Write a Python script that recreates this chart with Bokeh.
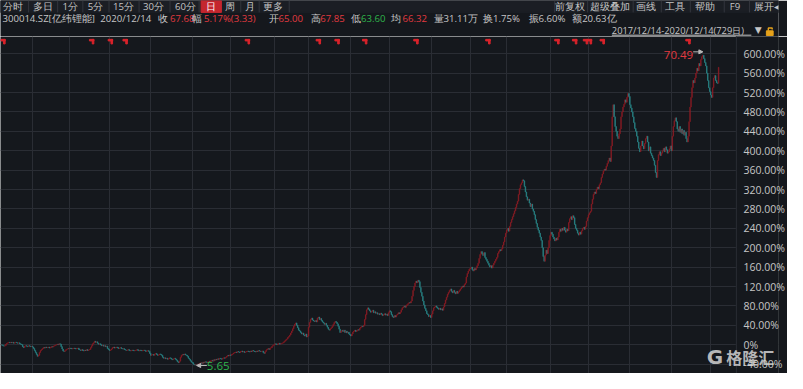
from bokeh.plotting import figure
from bokeh.layouts import column
from bokeh.models import (Range1d, FixedTicker, CustomJSTickFormatter, Label, Span,
                          Arrow, NormalHead, ColumnDataSource)
from bokeh.embed import file_html
from bokeh.resources import INLINE
from bokeh.core.properties import value

# ---------------- data ----------------
BASE_PRICE = 10.07          # price that corresponds to 0%
PEAK_HIGH = 70.49
LOW_PRICE = 5.65

# daily close, % change vs. base, 2017/12/14 - 2020/12/14
close_pct = [
    0, -1, -2, -3, -2, 1, 3, 4, 5, 4, 5, 4, 5, 3, 4, 5, 4, 3, 4, 2, 1, 0,
    -4, -6, -3, -2, -3, -4, -2, -3, -4, -3, -5,
    -8, -12, -16, -20, -24, -22,
    -16, -12, -10, -8, -6, -7, -5, -6,
    -6, -5, -7, -6, -4, -5,
    -3, -2, -1, 0, 1, 0, 2, 1,
    -4, -9, -13, -14, -12,
    -10, -9, -8, -9, -7, -8, -9, -8, -7, -8, -9, -8, -7,
    -10, -11, -12, -10, -12, -13, -11, -12, -10, -12, -11, -10,
    -6, -2, 2, 4, 7, 5, 6,
    3, 1, 2, 0, -2, -1, -3, -2, -4, -3,
    -8, -10, -12, -11, -9,
    -6, -5, -7, -6, -5, -6, -8, -7, -6, -8, -9, -8,
    -10, -11, -12, -11, -10, -12, -13, -12, -11, -12, -13, -12, -11, -10, -12, -13,
    -11, -12, -13, -12, -11, -12, -14, -13, -12, -14,
    -18, -22, -21, -20, -22,
    -19, -18, -20, -22, -21, -19, -20, -22,
    -26, -28, -27, -29, -28, -30, -29, -27, -28, -30, -31, -29, -28, -30, -32,
    -35, -37, -34,
    -26, -22, -20, -21, -19, -21, -22,
    -24, -28, -30, -33, -36, -37, -40,
    -42, -41, -43, -40, -41, -39,
    -38, -37, -39, -36, -37, -35, -36, -37, -35, -34, -36,
    -33, -32, -34, -31, -32, -30, -31, -29, -30, -28, -29, -30, -28, -27, -28, -26,
    -24, -22, -23, -21, -22, -20, -19,
    -17, -16, -15, -16, -14, -15, -16, -14, -13, -15, -14, -16, -15, -14, -13,
    -14, -15, -13, -14, -12, -13, -14, -15, -13, -14, -12, -13, -14, -13,
    -13, -16, -18, -14, -11,
    -9, -8, -10, -7, -6,
    -3, -1, 0, 2, 1, 0, 2, 3, 1, 2, 3,
    4, 6, 8, 10, 12, 15, 17,
    20, 24, 28, 33, 38, 42, 45,
    40, 35, 30,
    28, 25, 22, 24, 20, 18, 22,
    16, 18,
    36, 46, 52, 55,
    51, 49, 48, 50, 47,
    55, 57, 52, 54, 50,
    47, 45, 42, 44, 40,
    36, 32, 30, 33,
    35, 38, 42, 46,
    48, 46, 43,
    38, 32, 25, 28, 30,
    27, 30, 25, 28, 24, 26, 22,
    20, 18, 22,
    26, 28, 30, 27, 29, 31, 30,
    34, 36, 38, 37, 40,
    52, 62, 72, 76, 73,
    70, 67, 69, 71, 66, 68,
    65, 66, 63, 64, 62, 65, 63, 60, 62, 64, 61, 63, 60,
    66, 70, 68,
    62, 58, 56, 60, 57,
    61, 63, 66, 64, 67,
    72, 76, 78, 80, 77, 81, 83,
    85, 87, 86, 90,
    100, 112, 120,
    127, 131, 128, 133, 130,
    118, 108, 100,
    90, 82, 75, 70,
    64, 62, 58, 60, 56,
    63, 70, 76, 78, 80,
    77, 75, 73, 75, 72, 74, 71,
    78, 85, 92, 98,
    104, 108, 112, 115,
    110, 107, 112, 108, 105, 110,
    106, 109, 112, 115,
    118, 121, 119, 124, 127,
    140, 147, 152, 156, 158, 160,
    155, 152, 157, 154, 158,
    163, 168,
    178, 186, 192, 188, 184, 190,
    180, 176, 172, 168, 164, 160, 163, 158,
    164, 168, 172, 176, 180,
    188, 192, 196, 194, 198,
    205, 212, 222, 230, 236, 240,
    234, 244, 252, 258, 264, 270,
    276, 283, 290, 296,
    310, 322, 330, 334, 340,
    338, 326,
    315, 305, 298, 300,
    292, 285, 290, 280, 275,
    268, 258, 250, 242,
    236, 230, 222, 215,
    200, 182, 172,
    185, 195, 188, 200,
    215, 225, 232, 228, 222,
    218, 214, 220, 216, 222,
    232, 238, 234, 240, 236, 242,
    236, 232, 238, 235,
    252, 260, 264, 258, 266, 262,
    248, 240, 236, 230, 226, 232, 228,
    235, 240, 242, 238, 244,
    255, 262, 268, 272, 275,
    290, 300, 310, 315, 312,
    320, 325, 322, 330, 334,
    345, 352, 358, 362, 360, 368,
    374, 380, 385, 378,
    410, 470, 495,
    470, 450, 440, 430,
    425, 435, 445,
    470, 480, 490,
    496, 505, 500,
    510, 518, 512,
    495, 488, 480,
    470, 458, 446, 440,
    430, 418, 405, 398, 410,
    420, 410, 404, 415, 425,
    430, 418, 400, 408, 395,
    390, 385, 380,
    370, 355, 345,
    380, 392, 398, 390, 395,
    400, 405, 398, 408, 402, 395,
    398, 404, 410, 400,
    430, 450, 462, 468, 460,
    445, 440, 450, 438, 445,
    435, 442, 432, 438,
    425, 418, 430,
    460, 490, 510,
    530, 545, 540, 550,
    560, 570, 565,
    580, 575, 588, 594, 597,
    590, 582, 575,
    560, 545, 530, 522,
    515, 510, 530, 550,
    555, 545, 540, 539, 572,
]

# bimonthly separators (trading-day index) and info-marker days
grid_days = [32, 70, 110, 152, 194, 233, 277, 312, 355, 394, 437, 476, 513, 557, 596, 638, 680, 720]
flag_days = [2, 92, 111, 126, 250, 322, 341, 369, 421, 494, 564, 582, 593, 597, 610, 697]
y_ticks = [-40, 0, 40, 80, 120, 160, 200, 240, 280, 320, 360, 400, 440, 480, 520, 560, 600]

menu_left = ["分时", "多日", "1分", "5分", "15分", "30分", "60分", "日", "周", "月", "更多"]
menu_right = ["前复权", "超级叠加", "画线", "工具", "帮助", "F9", "展开◂"]
info_texts = ["300014.SZ[亿纬锂能]", "2020/12/14", "收", "67.68", "幅", "5.17%(3.33)",
              "开", "65.00", "高", "67.85", "低", "63.60", "均", "66.32",
              "量31.11万", "换1.75%", "振6.60%", "额20.63亿"]
info_kind = ["n", "n", "n", "up", "n", "up", "n", "up", "n", "up", "n", "dn", "n", "up",
             "n", "n", "n", "n"]
date_range_text = "2017/12/14-2020/12/14(729日)"

# ---------------- style ----------------
BG = "#15181d"
MENU_BG = "#1b1e24"
GRID = "#2a2d34"
TXT = "#c6c6c6"
RED = "#e23a40"
GREEN = "#2fb64c"
UP_C = "#8e1c25"
DN_C = "#2a8a8c"
FONT = "Open Sans"
HFS = "9.6px"

W = 787
H_HEAD = 36
H_CHART = 337

# ---------------- chart ----------------
n = len(close_pct)
open_pct = [close_pct[0]] + close_pct[:-1]
xs = list(range(n))
tops = [max(o, c) for o, c in zip(open_pct, close_pct)]
bots = [min(o, c) for o, c in zip(open_pct, close_pct)]
cols = [UP_C if c >= o else DN_C for o, c in zip(open_pct, close_pct)]
src = ColumnDataSource(dict(x=xs, top=tops, bottom=bots, color=cols))

# reference layout: plot area 759 px wide (of 803), 351 px high (y 38..389)
X0 = -0.5
DPX = (n + 17.0) / 759.0          # days per reference pixel
X1 = X0 + 803 * DPX                # frame spans the full width (axis labels drawn inside)
Y0, Y1 = -59.4, 635.6
DPY = (Y1 - Y0) / 351.0

def X(rx):
    return X0 + rx * DPX

def Y(ry):
    return Y1 - (ry - 38.0) * DPY

p = figure(width=W, height=H_CHART, x_range=Range1d(X0, X1), y_range=Range1d(Y0, Y1),
           output_backend="svg", toolbar_location=None, x_axis_location=None,
           y_axis_location="right", background_fill_color=BG, border_fill_color=BG,
           min_border=0, outline_line_color=None)

yax = p.yaxis[0]
yax.ticker = FixedTicker(ticks=y_ticks)
yax.formatter = CustomJSTickFormatter(code='return tick == 0 ? "0%" : tick.toFixed(2) + "%";')
yax.axis_line_color = None
yax.major_tick_line_color = None
yax.minor_tick_line_color = None
yax.major_label_text_color = TXT
yax.major_label_text_font = FONT
yax.major_label_text_font_size = "10.5px"
yax.major_label_standoff = -41
p.ygrid.ticker = FixedTicker(ticks=y_ticks)
p.ygrid.grid_line_color = GRID
p.xgrid.ticker = FixedTicker(ticks=grid_days)
p.xgrid.grid_line_color = GRID

# plain panel behind the price labels (hides grid there) + border line
p.quad(left=X(759.5), right=X(803) + 5, bottom=Y0 - 5, top=Y1 + 5, color=BG)
p.add_layout(Span(location=X(759.5), dimension="height", line_color=GRID, line_width=1))

p.vbar(x="x", top="top", bottom="bottom", width=0.6, fill_color="color",
       line_color="color", line_width=0.6, source=src)

# info markers along the top
fsrc = ColumnDataSource(dict(x=flag_days, xv=[d + 1.4 * DPX for d in flag_days]))
p.rect(x="x", y=Y(41.8), width=4.5, height=1.6, width_units="screen",
       height_units="screen", color="#d9232b", source=fsrc)
p.rect(x="xv", y=Y(43.4), width=1.6, height=4.5, width_units="screen",
       height_units="screen", color="#d9232b", source=fsrc)

# peak / low annotations
ip = max(range(n), key=lambda i: close_pct[i])
il = min(range(n), key=lambda i: close_pct[i])
y_peak = (PEAK_HIGH / BASE_PRICE - 1) * 100
y_low = (LOW_PRICE / BASE_PRICE - 1) * 100
AC = "#b8b8b8"
p.add_layout(Arrow(end=NormalHead(size=4, line_color=AC, fill_color=AC, line_width=1),
                   x_start=ip - 10 * DPX, y_start=y_peak + 2 * DPY, x_end=ip, y_end=y_peak + 2 * DPY,
                   line_color=AC, line_width=1))
p.add_layout(Label(x=ip - 10 * DPX, y=y_peak - 1 * DPY, text="%.2f" % PEAK_HIGH,
                   text_align="right", text_baseline="middle", text_color=RED,
                   text_font=FONT, text_font_size="11.5px"))
p.add_layout(Arrow(end=NormalHead(size=4, line_color=AC, fill_color=AC, line_width=1),
                   x_start=il + 11 * DPX, y_start=y_low + 0.5 * DPY, x_end=il + 0.5, y_end=y_low + 0.5 * DPY,
                   line_color=AC, line_width=1))
p.add_layout(Label(x=il + 11 * DPX, y=y_low, text="%.2f" % LOW_PRICE,
                   text_align="left", text_baseline="middle", text_color=GREEN,
                   text_font=FONT, text_font_size="11.5px"))

# watermark
p.add_layout(Label(x=X(737.5), y=Y(372), text="G", text_align="center", text_baseline="middle",
                   text_color="#d4d4d4", text_alpha=0.85, text_font="DejaVu Sans",
                   text_font_style="bold", text_font_size="20px"))
p.add_layout(Label(x=X(749), y=Y(372), text="格隆汇", text_align="left", text_baseline="middle",
                   text_color="#d4d4d4", text_alpha=0.85, text_font="Noto Sans CJK SC",
                   text_font_style="bold", text_font_size="16px"))

# ---------------- header ----------------
h = figure(width=W, height=H_HEAD, x_range=Range1d(0, 803), y_range=Range1d(38, 0),
           output_backend="svg", toolbar_location=None, x_axis_location=None,
           y_axis_location=None, min_border=0, background_fill_color=BG,
           border_fill_color=BG, outline_line_color=None)
h.grid.visible = False
h.quad(left=0, right=803, top=0, bottom=12.6, color=MENU_BG)
h.quad(left=207, right=228, top=0, bottom=12.6, color="#c4262e")

sep_x = [29, 59, 85, 112, 143, 175, 205, 248, 267, 298, 572, 606, 653, 682, 712, 747, 773]
h.segment(x0=sep_x, y0=[0] * len(sep_x), x1=sep_x, y1=[12.6] * len(sep_x),
          line_color="#33363d", line_width=1)

ml_x = [13, 44, 72, 98, 127, 158, 191, 217.5, 237, 258, 281]
ml_col = [TXT] * len(menu_left)
ml_col[7] = "#ffffff"
h.text(x=ml_x, y=[6.6] * len(ml_x), text=menu_left, text_color=ml_col,
       text_font=value(FONT), text_font_size=HFS, text_align="center",
       text_baseline="middle")
mr_x = [588, 629, 666, 696, 727, 758, 778]
mr_align = ["center"] * 6 + ["left"]
h.text(x=mr_x, y=[6.6] * len(mr_x), text=menu_right, text_color=TXT,
       text_font=value(FONT), text_font_size=HFS, text_align=mr_align,
       text_baseline="middle")

info_x = [2, 103, 163, 175, 198, 210, 277, 287, 320, 330, 362, 372, 403, 415, 447, 498, 545, 590]
color_map = {"n": TXT, "up": RED, "dn": GREEN}
h.text(x=info_x, y=[19.3] * len(info_x), text=info_texts,
       text_color=[color_map[k] for k in info_kind], text_font=value(FONT),
       text_font_size=HFS, text_align="left", text_baseline="middle")

h.text(x=[631], y=[31.2], text=[date_range_text], text_color=TXT, text_font=value(FONT),
       text_font_size="9.3px", text_align="left", text_baseline="middle")
h.segment(x0=[631], y0=[36.6], x1=[775], y1=[36.6], line_color=TXT, line_width=1)
h.text(x=[782], y=[31.2], text=["▼"], text_color=TXT, text_font=value("DejaVu Sans"),
       text_font_size="9px", text_align="center", text_baseline="middle")
# lock icon
h.quad(left=790.5, right=797.5, top=32.0, bottom=37.0, color="#e6a21a")
h.line(x=[792.5, 792.5, 796.5, 796.5], y=[32.0, 29.0, 29.0, 30.5], line_color="#e6a21a",
       line_width=1.4)

layout = column(h, p, spacing=0)
open("out.html", "w").write(file_html(layout, INLINE))
